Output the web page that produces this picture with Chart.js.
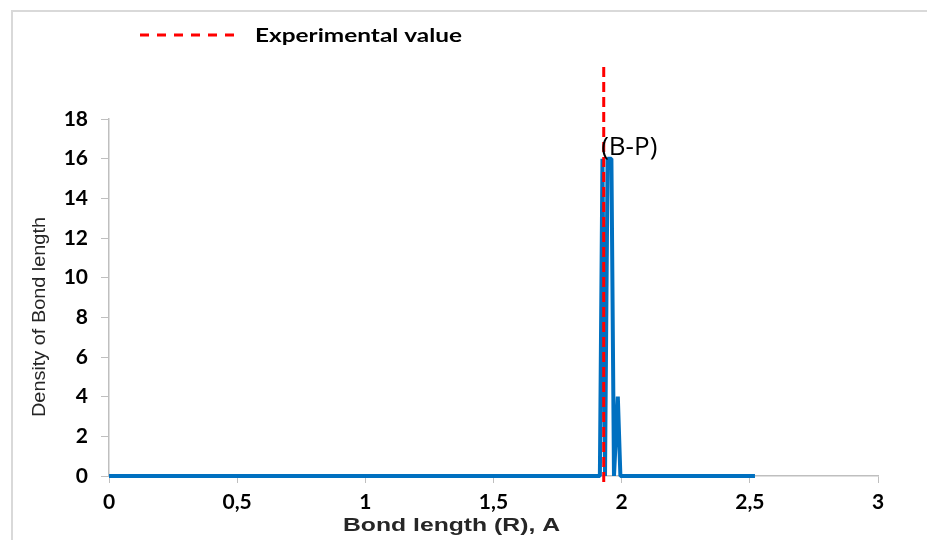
<!DOCTYPE html>
<html>
<head>
<meta charset="utf-8">
<script src="https://cdn.jsdelivr.net/npm/chart.js@4.4.1/dist/chart.umd.min.js"></script>
<style>
  body { margin: 0; background: #fff; }
  #wrap { width: 927px; height: 540px; }
</style>
</head>
<body>
<div id="wrap"><canvas id="bondChart" width="927" height="540"></canvas></div>
<script>
// bond length (Å) vs density
const bondLength = [0, 1.915, 1.925, 1.935, 1.945, 1.96, 1.97, 1.985, 1.995, 2.52];
const density = [0, 0, 16, 0, 16, 16, 0, 4, 0, 0];

// experimental value marker (vertical dashed line)
const expValue = 1.93;
const expRange = [-0.3, 20.7];

const peakLabel = '(B-P)';
const peakLabelAt = [1.92, 16];

const xTicks = [0, 0.5, 1, 1.5, 2, 2.5, 3];
const yTicks = [0, 2, 4, 6, 8, 10, 12, 14, 16, 18];

const legendText = 'Experimental value';
const xTitle = 'Bond length (R), A';
const yTitle = 'Density of Bond length';

const ctx = document.getElementById('bondChart').getContext('2d');

// draw text squeezed/stretched to a given width
function fitText(c, text, x, y, font, width, color) {
  c.save();
  c.font = font;
  c.fillStyle = color;
  c.textBaseline = 'alphabetic';
  c.textAlign = 'left';
  const w = c.measureText(text).width;
  c.translate(x, y);
  c.scale(width / w, 1);
  c.fillText(text, 0, 0);
  c.restore();
}

const decorations = {
  id: 'decorations',
  beforeDraw(chart) {
    const c = chart.ctx;
    c.save();
    // outer frame (top + left only visible)
    c.strokeStyle = '#D9D9D9';
    c.lineWidth = 2;
    c.beginPath();
    c.moveTo(12, 540);
    c.lineTo(12, 11);
    c.lineTo(927, 11);
    c.stroke();
    c.restore();
  },
  afterDraw(chart) {
    const c = chart.ctx;
    const xs = chart.scales.x, ys = chart.scales.y;

    // legend
    c.save();
    c.strokeStyle = '#FF0000';
    c.lineWidth = 3;
    c.setLineDash([9, 8]);
    c.beginPath();
    c.moveTo(140, 35);
    c.lineTo(242, 35);
    c.stroke();
    c.restore();
    fitText(c, legendText, 255, 42, 'bold 19px Lato', 207, '#000');

    // axis titles
    fitText(c, xTitle, 343, 531, 'bold 18px "Liberation Sans"', 217, '#262626');
    c.save();
    c.translate(45, 417);
    c.rotate(-Math.PI / 2);
    fitText(c, yTitle, 0, 0, '18px "Liberation Sans"', 200, '#262626');
    c.restore();

    // peak label
    c.save();
    c.font = '26px "Open Sans"';
    c.fillStyle = '#000';
    c.textBaseline = 'alphabetic';
    c.fillText(peakLabel, xs.getPixelForValue(peakLabelAt[0]), ys.getPixelForValue(peakLabelAt[1]) - 4);
    c.restore();
  }
};

new Chart(ctx, {
  type: 'scatter',
  data: {
    datasets: [
      {
        label: legendText,
        data: expRange.map(v => ({ x: expValue, y: v })),
        showLine: true,
        borderColor: '#FF0000',
        borderWidth: 3,
        borderDash: [10, 5],
        pointRadius: 0,
        clip: false,
        order: 0
      },
      {
        label: 'B-P',
        data: bondLength.map((b, i) => ({ x: b, y: density[i] })),
        showLine: true,
        borderColor: '#0070C0',
        borderWidth: 4,
        borderJoinStyle: 'bevel',
        pointRadius: 0,
        tension: 0,
        clip: 4,
        order: 1
      }
    ]
  },
  options: {
    responsive: false,
    animation: false,
    layout: { padding: { left: 0, right: 49, top: 119, bottom: 0 } },
    plugins: {
      legend: { display: false },
      tooltip: { enabled: false }
    },
    scales: {
      x: {
        type: 'linear',
        min: 0,
        max: 3,
        afterFit: s => { s.height = 64; },
        afterBuildTicks: s => { s.ticks = xTicks.map(v => ({ value: v })); },
        ticks: {
          color: '#000',
          font: { family: 'Lato', size: 21, weight: 'bold' },
          padding: 7,
          maxRotation: 0,
          callback: v => String(v).replace('.', ',')
        },
        grid: { drawOnChartArea: false, drawTicks: true, tickLength: 7, color: '#BFBFBF' },
        border: { color: '#BFBFBF', width: 1.5 }
      },
      y: {
        type: 'linear',
        min: 0,
        max: 18,
        afterFit: s => { s.width = 109; },
        afterBuildTicks: s => { s.ticks = yTicks.map(v => ({ value: v })); },
        ticks: {
          color: '#000',
          font: { family: 'Lato', size: 21, weight: 'bold' },
          padding: 13
        },
        grid: { drawOnChartArea: false, drawTicks: true, tickLength: 8, color: '#BFBFBF' },
        border: { color: '#BFBFBF', width: 1.5 }
      }
    }
  },
  plugins: [decorations]
});
</script>
</body>
</html>
